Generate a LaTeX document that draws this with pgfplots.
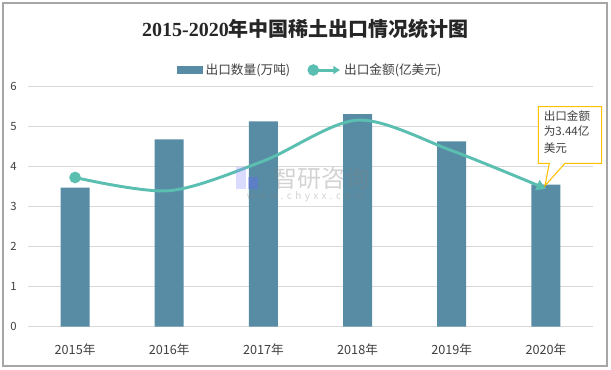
\documentclass[border=0pt]{standalone}
\usepackage{pgfplots}
\pgfplotsset{compat=1.18}
\usetikzlibrary{arrows.meta}
\usepackage{fontspec}
\setmainfont{Noto Sans CJK SC}
\newfontfamily\titleserif{Liberation Serif}
\definecolor{barcol}{RGB}{88,140,165}
\definecolor{linecol}{RGB}{90,190,176}
\definecolor{gridcol}{RGB}{217,217,217}
\definecolor{txt}{RGB}{64,64,64}
\definecolor{framecol}{RGB}{166,166,166}
\definecolor{callout}{RGB}{255,192,0}
\begin{document}
\begin{tikzpicture}
\begin{scope}[x=0.75pt,y=0.75pt]
\useasboundingbox (0,0) rectangle (611,369);
\draw[framecol, line width=1.1pt] (3,3) rectangle (607,366);
\end{scope}
\begin{axis}[
  at={(21pt,31.725pt)}, anchor=south west,
  scale only axis, width=423.75pt, height=180.5pt,
  xmin=-0.5, xmax=5.5, ymin=0, ymax=6,
  xtick={0,...,5},
  xticklabels={2015年,2016年,2017年,2018年,2019年,2020年},
  ytick={0,...,6},
  ymajorgrids, grid style={draw=gridcol, line width=0.8pt},
  axis line style={draw=none},
  major tick length=0pt,
  clip=false,
  /pgf/number format/assume math mode=true,
  xticklabel style={font=\fontsize{9.5}{11}\selectfont, text=txt, yshift=-9pt},
  yticklabel style={font=\fontsize{8.5}{10}\selectfont, text=txt, xshift=-5pt},
  legend columns=2,
  legend style={draw=none, fill=none, at={(0.5,1.0665)}, anchor=center,
    font=\fontsize{9.5}{11}\selectfont, text=txt,
    /tikz/every even column/.append style={column sep=11pt}},
]
\addplot[ybar, bar width=21.75pt, fill=barcol, draw=none,
  legend image code/.code={\fill[barcol] (0pt,-3pt) rectangle (19.5pt,3pt);}]
  coordinates {(0,3.47) (1,4.67) (2,5.12) (3,5.30) (4,4.62) (5,3.54)};
\addlegendentry{出口数量(万吨)}
\addplot[smooth, linecol, line width=2.2pt, -{Triangle[length=7pt,width=8pt]},
  mark=*, mark indices={1}, mark size=3.2pt, mark options={fill=linecol, draw=linecol, solid},
  legend image code/.code={\draw[linecol, line width=2.2pt, -{Triangle[length=5pt,width=6pt]}] (0pt,0pt) -- (20pt,0pt); \fill[linecol] (0pt,0pt) circle (3.2pt);}]
  coordinates {(0,3.72) (1,3.39) (2,4.13) (3,5.15) (4,4.39) (5,3.44)};
\addlegendentry{出口金额(亿美元)}
\end{axis}
\begin{scope}[x=0.75pt,y=0.75pt]
% watermark
\begin{scope}[opacity=0.35]
\fill[blue!40] (236,180) rectangle (246,202);
\fill[blue!60] (248,180) rectangle (258,192);
\node[text=gray, font=\fontsize{18}{20}\selectfont, inner sep=0pt] at (321,191) {智研咨询};
\node[text=gray, font=\fontsize{7.5}{9}\selectfont, inner sep=0pt] at (305,172) {w\,\,w\,\,w\,\,.\,\,c\,\,h\,\,y\,\,x\,\,x\,\,.\,\,c\,\,o\,\,m};
\end{scope}
\node[text=black!85, font=\fontsize{15}{18}\selectfont\bfseries] at (305.5,340) {{\titleserif 2015-2020}年中国稀土出口情况统计图};
\draw[callout, fill=white, line width=0.8pt, line join=miter]
  (538.3,262.3) -- (601.7,262.3) -- (601.7,205.7) -- (565,205.7) -- (545,183.3) -- (549.3,205.7) -- (538.3,205.7) -- cycle;
\node[anchor=west, inner sep=0pt, text=txt, font=\fontsize{8.7}{10}\selectfont] at (543.5,253.3) {出口金额};
\node[anchor=west, inner sep=0pt, text=txt, font=\fontsize{8.7}{10}\selectfont] at (543.5,238) {为3.44亿};
\node[anchor=west, inner sep=0pt, text=txt, font=\fontsize{8.7}{10}\selectfont] at (543.5,221.3) {美元};
\end{scope}
\end{tikzpicture}
\end{document}
